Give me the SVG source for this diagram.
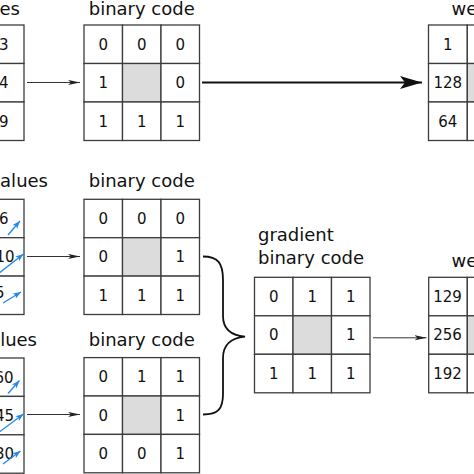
<svg xmlns="http://www.w3.org/2000/svg" width="474" height="474" viewBox="0 0 474 474">
<style>
.c{fill:#fff;stroke:#3c3c3c;stroke-width:1.3}
.g{fill:#dcdcdc;stroke:#3c3c3c;stroke-width:1.3}
.t{font-family:"DejaVu Sans",Verdana,sans-serif;font-size:18px;fill:#111}
.n{font-family:"DejaVu Sans",Verdana,sans-serif;font-size:15px;fill:#111;text-anchor:middle}
.ne{font-family:"DejaVu Sans",Verdana,sans-serif;font-size:15px;fill:#111;text-anchor:end}
.ar{stroke:#333;stroke-width:1;fill:none}
.big{stroke:#111;stroke-width:1.8;fill:none}
.bl{stroke:#2288ee;stroke-width:1.3;fill:none}
.br{stroke:#111;stroke-width:1.8;fill:none}
</style>
<defs>
<marker id="ms" markerUnits="userSpaceOnUse" markerWidth="12" markerHeight="6" refX="12" refY="3" orient="auto" viewBox="0 0 12 6">
<path d="M0,0.4 L12,3 L0,5.6 L3,3 z" fill="#222"/>
</marker>
<marker id="mb" markerUnits="userSpaceOnUse" markerWidth="22" markerHeight="13" refX="22" refY="6.5" orient="auto" viewBox="0 0 22 13">
<path d="M0,0 L22,6.5 L0,13 L5,6.5 z" fill="#111"/>
</marker>
<marker id="mbl" markerUnits="userSpaceOnUse" markerWidth="8" markerHeight="6" refX="8" refY="3" orient="auto" viewBox="0 0 8 6">
<path d="M0,0 L8,3 L0,6 L2,3 z" fill="#2288ee"/>
</marker>
</defs>

<g id="values-top">
<text class="t" x="20" y="14.5" text-anchor="end">es</text>
<rect class="c" x="-14.5" y="25" width="38.5" height="38.5"/>
<rect class="c" x="-14.5" y="63.5" width="38.5" height="38.5"/>
<rect class="c" x="-14.5" y="102" width="38.5" height="38.5"/>
<text class="ne" x="8.5" y="49.6">3</text>
<text class="ne" x="8.5" y="88.1">4</text>
<text class="ne" x="8.5" y="126.6">9</text>
</g>

<g id="binary-top">
<text class="t" x="141.75" y="14.5" text-anchor="middle">binary code</text>
<rect class="c" x="84" y="25" width="38.5" height="38.5"/>
<rect class="c" x="122.5" y="25" width="38.5" height="38.5"/>
<rect class="c" x="161" y="25" width="38.5" height="38.5"/>
<rect class="c" x="84" y="63.5" width="38.5" height="38.5"/>
<rect class="g" x="122.5" y="63.5" width="38.5" height="38.5"/>
<rect class="c" x="161" y="63.5" width="38.5" height="38.5"/>
<rect class="c" x="84" y="102" width="38.5" height="38.5"/>
<rect class="c" x="122.5" y="102" width="38.5" height="38.5"/>
<rect class="c" x="161" y="102" width="38.5" height="38.5"/>
<text class="n" x="103.25" y="49.6">0</text>
<text class="n" x="141.75" y="49.6">0</text>
<text class="n" x="180.25" y="49.6">0</text>
<text class="n" x="103.25" y="88.1">1</text>
<text class="n" x="180.25" y="88.1">0</text>
<text class="n" x="103.25" y="126.6">1</text>
<text class="n" x="141.75" y="126.6">1</text>
<text class="n" x="180.25" y="126.6">1</text>
</g>

<g id="weights-top">
<text class="t" x="451.5" y="14.5">we</text>
<rect class="c" x="428.5" y="25" width="38.8" height="38.5"/>
<rect class="c" x="467.3" y="25" width="38.8" height="38.5"/>
<rect class="c" x="428.5" y="63.5" width="38.8" height="38.5"/>
<rect class="g" x="467.3" y="63.5" width="38.8" height="38.5"/>
<rect class="c" x="428.5" y="102" width="38.8" height="38.5"/>
<rect class="c" x="467.3" y="102" width="38.8" height="38.5"/>
<text class="n" x="447.8" y="49.6">1</text>
<text class="n" x="447.8" y="88.1">128</text>
<text class="n" x="447.8" y="126.6">64</text>
</g>

<g id="values-mid">
<text class="t" x="48" y="187.3" text-anchor="end">alues</text>
<rect class="c" x="-14.5" y="199.3" width="38.5" height="38.4"/>
<rect class="c" x="-14.5" y="237.7" width="38.5" height="38.4"/>
<rect class="c" x="-14.5" y="276.1" width="38.5" height="38.4"/>
<text class="ne" x="8.5" y="223.5">6</text>
<text class="ne" x="14.5" y="261.5">10</text>
<text class="ne" x="4.5" y="298.3">5</text>
<line class="bl" x1="8" y1="235" x2="20" y2="221" marker-end="url(#mbl)"/>
<line class="bl" x1="-2" y1="274" x2="23.5" y2="254" marker-end="url(#mbl)"/>
<line class="bl" x1="3" y1="303" x2="21" y2="292" marker-end="url(#mbl)"/>
</g>

<g id="binary-mid">
<text class="t" x="141.75" y="187.3" text-anchor="middle">binary code</text>
<rect class="c" x="84" y="199.3" width="38.5" height="38.4"/>
<rect class="c" x="122.5" y="199.3" width="38.5" height="38.4"/>
<rect class="c" x="161" y="199.3" width="38.5" height="38.4"/>
<rect class="c" x="84" y="237.7" width="38.5" height="38.4"/>
<rect class="g" x="122.5" y="237.7" width="38.5" height="38.4"/>
<rect class="c" x="161" y="237.7" width="38.5" height="38.4"/>
<rect class="c" x="84" y="276.1" width="38.5" height="38.4"/>
<rect class="c" x="122.5" y="276.1" width="38.5" height="38.4"/>
<rect class="c" x="161" y="276.1" width="38.5" height="38.4"/>
<text class="n" x="103.25" y="223.8">0</text>
<text class="n" x="141.75" y="223.8">0</text>
<text class="n" x="180.25" y="223.8">0</text>
<text class="n" x="103.25" y="262.3">0</text>
<text class="n" x="180.25" y="262.3">1</text>
<text class="n" x="103.25" y="300.8">1</text>
<text class="n" x="141.75" y="300.8">1</text>
<text class="n" x="180.25" y="300.8">1</text>
</g>

<g id="values-bot">
<text class="t" x="37" y="345.7" text-anchor="end">lues</text>
<rect class="c" x="-14.5" y="358" width="38.5" height="38.4"/>
<rect class="c" x="-14.5" y="396.4" width="38.5" height="38.4"/>
<rect class="c" x="-14.5" y="434.8" width="38.5" height="38.4"/>
<text class="ne" x="13.5" y="382.5">60</text>
<text class="ne" x="14" y="420.9">45</text>
<text class="ne" x="14" y="459.2">30</text>
<line class="bl" x1="8" y1="393.5" x2="19.5" y2="380.5" marker-end="url(#mbl)"/>
<line class="bl" x1="-2" y1="433" x2="23.5" y2="414" marker-end="url(#mbl)"/>
<line class="bl" x1="3" y1="464" x2="20.5" y2="451" marker-end="url(#mbl)"/>
</g>

<g id="binary-bot">
<text class="t" x="141.75" y="345.7" text-anchor="middle">binary code</text>
<rect class="c" x="84" y="357.6" width="38.5" height="38.4"/>
<rect class="c" x="122.5" y="357.6" width="38.5" height="38.4"/>
<rect class="c" x="161" y="357.6" width="38.5" height="38.4"/>
<rect class="c" x="84" y="396" width="38.5" height="38.4"/>
<rect class="g" x="122.5" y="396" width="38.5" height="38.4"/>
<rect class="c" x="161" y="396" width="38.5" height="38.4"/>
<rect class="c" x="84" y="434.4" width="38.5" height="38.4"/>
<rect class="c" x="122.5" y="434.4" width="38.5" height="38.4"/>
<rect class="c" x="161" y="434.4" width="38.5" height="38.4"/>
<text class="n" x="103.25" y="382.1">0</text>
<text class="n" x="141.75" y="382.1">1</text>
<text class="n" x="180.25" y="382.1">1</text>
<text class="n" x="103.25" y="420.5">0</text>
<text class="n" x="180.25" y="420.5">1</text>
<text class="n" x="103.25" y="458.9">0</text>
<text class="n" x="141.75" y="458.9">0</text>
<text class="n" x="180.25" y="458.9">1</text>
</g>

<g id="gradient-binary">
<text class="t" x="258" y="240.5">gradient</text>
<text class="t" x="258" y="263.5">binary code</text>
<rect class="c" x="254.5" y="277.3" width="38.5" height="38.5"/>
<rect class="c" x="293" y="277.3" width="38.5" height="38.5"/>
<rect class="c" x="331.5" y="277.3" width="38.5" height="38.5"/>
<rect class="c" x="254.5" y="315.8" width="38.5" height="38.5"/>
<rect class="g" x="293" y="315.8" width="38.5" height="38.5"/>
<rect class="c" x="331.5" y="315.8" width="38.5" height="38.5"/>
<rect class="c" x="254.5" y="354.3" width="38.5" height="38.5"/>
<rect class="c" x="293" y="354.3" width="38.5" height="38.5"/>
<rect class="c" x="331.5" y="354.3" width="38.5" height="38.5"/>
<text class="n" x="273.75" y="301.9">0</text>
<text class="n" x="312.25" y="301.9">1</text>
<text class="n" x="350.75" y="301.9">1</text>
<text class="n" x="273.75" y="340.4">0</text>
<text class="n" x="350.75" y="340.4">1</text>
<text class="n" x="273.75" y="378.9">1</text>
<text class="n" x="312.25" y="378.9">1</text>
<text class="n" x="350.75" y="378.9">1</text>
</g>

<g id="weights-bot">
<text class="t" x="451.5" y="266.5">we</text>
<rect class="c" x="428.7" y="277.3" width="38.6" height="38.5"/>
<rect class="c" x="467.3" y="277.3" width="38.6" height="38.5"/>
<rect class="c" x="428.7" y="315.8" width="38.6" height="38.5"/>
<rect class="g" x="467.3" y="315.8" width="38.6" height="38.5"/>
<rect class="c" x="428.7" y="354.3" width="38.6" height="38.5"/>
<rect class="c" x="467.3" y="354.3" width="38.6" height="38.5"/>
<text class="n" x="447.6" y="301.9">129</text>
<text class="n" x="447.6" y="340.4">256</text>
<text class="n" x="447.6" y="378.9">192</text>
</g>

<g id="connectors">
<line class="ar" x1="27" y1="82.5" x2="80" y2="82.5" marker-end="url(#ms)"/>
<line class="big" x1="202" y1="82.5" x2="422" y2="82.5" marker-end="url(#mb)"/>
<line class="ar" x1="27" y1="256.5" x2="80" y2="256.5" marker-end="url(#ms)"/>
<line class="ar" x1="27" y1="414.5" x2="80" y2="414.5" marker-end="url(#ms)"/>
<line class="ar" x1="373" y1="337.8" x2="426.5" y2="337.8" marker-end="url(#ms)"/>
<path class="br" d="M203,256.5 C218,256.5 223,263 223,280 L223,316 C223,330 232,335.5 245,336.7 C232,338 223,344 223,358 L223,394 C223,409 218,414.5 203,414.5"/>
</g>
</svg>
